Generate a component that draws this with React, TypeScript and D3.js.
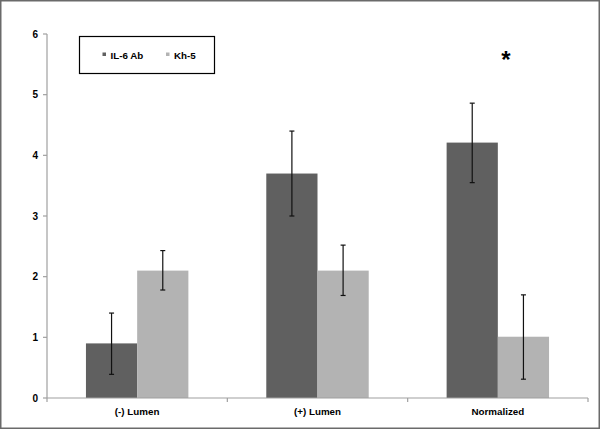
import React from "react";
import * as d3 from "d3";

const categories = ["(-) Lumen", "(+) Lumen", "Normalized"];
const seriesNames = ["IL-6 Ab", "Kh-5"];
const il6Values = [0.9, 3.7, 4.21];
const il6Low = [0.39, 3.0, 3.55];
const il6High = [1.4, 4.4, 4.86];
const kh5Values = [2.1, 2.1, 1.01];
const kh5Low = [1.78, 1.69, 0.31];
const kh5High = [2.43, 2.52, 1.7];
const yTicks = [0, 1, 2, 3, 4, 5, 6];
const colors = ["#606060", "#b3b3b3"];

const W = 600;
const H = 429;
const left = 47;
const right = 588;
const top = 34;
const bottom = 398;

export default function App() {
  const x = d3.scaleBand<string>().domain(categories).range([left, right]).paddingInner(0).paddingOuter(0);
  const y = d3.scaleLinear().domain([0, 6]).range([bottom, top]);
  const bw = x.bandwidth();
  const barW = bw * 0.284;
  const series = [
    { name: seriesNames[0], values: il6Values, lo: il6Low, hi: il6High, color: colors[0] },
    { name: seriesNames[1], values: kh5Values, lo: kh5Low, hi: kh5High, color: colors[1] },
  ];
  const font = "'Liberation Sans', Arial, sans-serif";
  return (
    <svg width={W} height={H} style={{ position: "absolute", left: 0, top: 0 }} fontFamily={font}>
      <rect x={0} y={0} width={W} height={H} fill="#fff" />
      <rect x={0.75} y={0.75} width={W - 1.5} height={H - 1.5} fill="none" stroke="#6a6a6a" strokeWidth={1.5} />
      {series.map((s, si) =>
        categories.map((c, ci) => {
          const cx = (x(c) as number) + bw / 2;
          const bx = cx - barW + si * barW;
          return (
            <rect key={`${si}-${ci}`} x={bx} y={y(s.values[ci])} width={barW} height={bottom - y(s.values[ci])} fill={s.color} />
          );
        })
      )}
      {series.map((s, si) =>
        categories.map((c, ci) => {
          const cx = (x(c) as number) + bw / 2;
          const ex = cx - barW / 2 + si * barW;
          return (
            <g key={`e${si}-${ci}`} stroke="#111" strokeWidth={1.2}>
              <line x1={ex} x2={ex} y1={y(s.lo[ci])} y2={y(s.hi[ci])} />
              <line x1={ex - 2.5} x2={ex + 2.5} y1={y(s.lo[ci])} y2={y(s.lo[ci])} />
              <line x1={ex - 2.5} x2={ex + 2.5} y1={y(s.hi[ci])} y2={y(s.hi[ci])} />
            </g>
          );
        })
      )}
      {/* y axis */}
      <line x1={left} x2={left} y1={top} y2={bottom} stroke="#a0a0a0" strokeWidth={1.2} />
      {yTicks.map((t) => (
        <g key={t}>
          <line x1={left - 4} x2={left} y1={y(t)} y2={y(t)} stroke="#a0a0a0" strokeWidth={1.2} />
          <text x={38} y={y(t)} dy="0.35em" textAnchor="end" fontSize={10} fontWeight="bold" fill="#000">
            {t}
          </text>
        </g>
      ))}
      {/* x axis */}
      <line x1={left} x2={right} y1={bottom} y2={bottom} stroke="#a0a0a0" strokeWidth={1.2} />
      {categories.map((c) => (
        <line key={`t${c}`} x1={(x(c) as number) + bw} x2={(x(c) as number) + bw} y1={bottom} y2={bottom + 4} stroke="#a0a0a0" strokeWidth={1.2} />
      ))}
      <line x1={left} x2={left} y1={bottom} y2={bottom + 4} stroke="#a0a0a0" strokeWidth={1.2} />
      {categories.map((c) => (
        <text key={`l${c}`} x={(x(c) as number) + bw / 2} y={415} textAnchor="middle" fontSize={9.8} fontWeight="bold" fill="#000">
          {c}
        </text>
      ))}
      {/* legend */}
      <rect x={79.5} y={36.5} width={135} height={37} fill="#fff" stroke="#000" strokeWidth={1.2} />
      {series.map((s, i) => {
        const lx = i === 0 ? 102.5 : 166;
        return (
          <g key={`lg${i}`}>
            <rect x={lx} y={52.5} width={3.5} height={3.5} fill={s.color} />
            <text x={lx + 8} y={58.5} fontSize={9.8} fontWeight="bold" fill="#000">
              {s.name}
            </text>
          </g>
        );
      })}
      <text x={(x("Normalized") as number) + bw / 2 + 8} y={68} textAnchor="middle" fontSize={24} fontWeight="bold" fill="#000">
        *
      </text>
    </svg>
  );
}
